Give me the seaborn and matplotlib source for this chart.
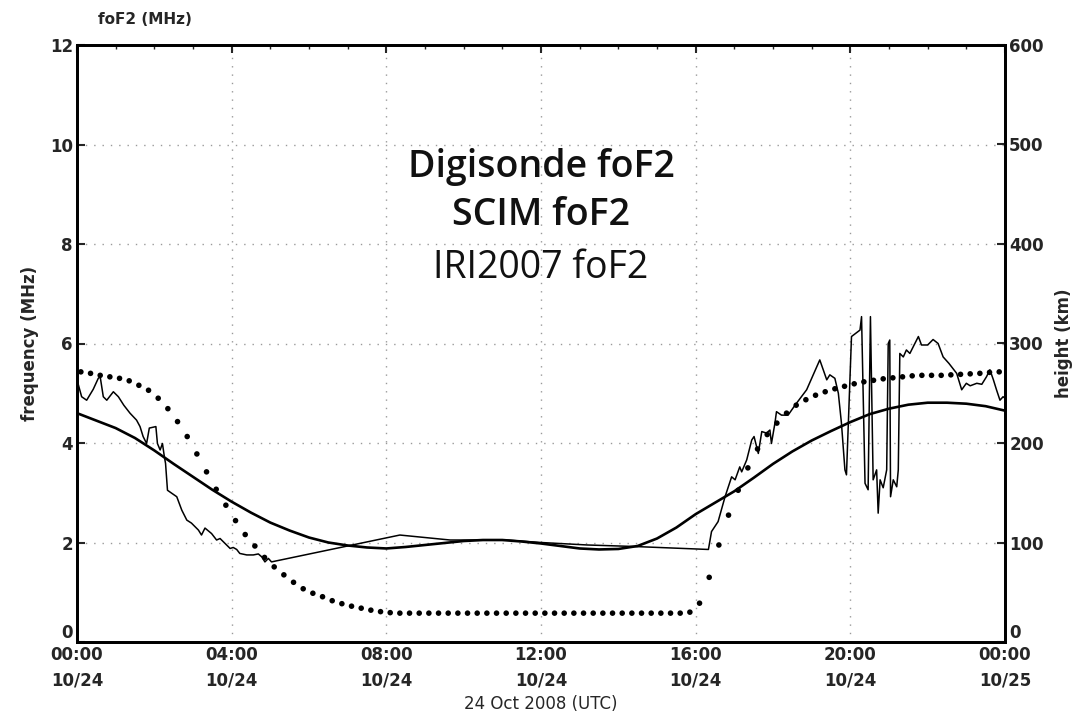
import numpy as np
import pandas as pd
import matplotlib
matplotlib.use("Agg")
import matplotlib.pyplot as plt
import seaborn as sns
from matplotlib.ticker import MultipleLocator

# ---------------- data ----------------
# Digisonde foF2 (hours UTC, MHz)
digi_hours = [0.0, 0.12, 0.25, 0.42, 0.55, 0.60, 0.68, 0.77, 0.94, 1.07, 1.21, 1.37, 1.54, 1.63,
              1.71, 1.80, 1.87, 2.04, 2.08, 2.15, 2.21, 2.26, 2.29, 2.34, 2.45, 2.58, 2.71, 2.84,
              2.96, 3.14, 3.22, 3.31, 3.48, 3.61, 3.70, 3.83, 3.96, 4.04, 4.13, 4.21, 4.39, 4.56,
              4.69, 4.78, 4.86, 4.95, 5.03, 8.35, 9.65, 11.1, 12.0, 13.2, 14.4, 16.33, 16.41,
              16.58, 16.76, 16.93, 17.02, 17.14, 17.19, 17.32, 17.45, 17.51, 17.62, 17.71, 17.83,
              17.92, 17.96, 18.05, 18.09, 18.22, 18.39, 18.57, 18.87, 19.21, 19.39, 19.47, 19.60,
              19.69, 19.77, 19.86, 19.90, 20.03, 20.25, 20.29, 20.38, 20.46, 20.52, 20.59, 20.68,
              20.72, 20.77, 20.85, 20.94, 20.98, 21.02, 21.04, 21.11, 21.20, 21.24, 21.28, 21.37,
              21.45, 21.54, 21.63, 21.76, 21.84, 22.00, 22.14, 22.27, 22.40, 22.55, 22.75, 22.88,
              23.00, 23.10, 23.27, 23.40, 23.52, 23.61, 23.70, 23.78, 23.87, 23.95, 24.0]
digi_fof2 = [5.27, 4.93, 4.86, 5.08, 5.30, 5.33, 4.93, 4.86, 5.03, 4.93, 4.76, 4.60, 4.46, 4.33,
             4.13, 3.99, 4.30, 4.33, 3.99, 3.86, 3.99, 3.72, 3.59, 3.05, 2.99, 2.92, 2.65, 2.45,
             2.39, 2.25, 2.15, 2.29, 2.18, 2.05, 2.08, 1.98, 1.88, 1.90, 1.86, 1.78, 1.75, 1.75,
             1.77, 1.71, 1.61, 1.68, 1.61, 2.15, 2.05, 2.05, 2.00, 1.95, 1.92, 1.86, 2.22,
             2.42, 2.92, 3.32, 3.26, 3.52, 3.42, 3.66, 4.06, 4.13, 3.79, 4.23, 4.20,
             4.26, 3.99, 4.40, 4.63, 4.56, 4.56, 4.76, 5.07, 5.67, 5.27, 5.37, 5.30,
             5.00, 4.40, 3.46, 3.36, 6.14, 6.27, 6.54, 3.19, 3.06, 6.54, 3.26, 3.46,
             2.59, 3.26, 3.10, 3.46, 6.00, 6.07, 2.92, 3.26, 3.12, 3.46, 5.80, 5.73,
             5.87, 5.80, 5.94, 6.14, 5.97, 5.97, 6.08, 6.00, 5.73, 5.60, 5.40, 5.07,
             5.20, 5.15, 5.20, 5.18, 5.33, 5.47, 5.27, 5.07, 4.86, 4.93, 4.90]

# SCIM foF2 (half-hourly)
scim_hours = [0.0, 0.5, 1.0, 1.5, 2.0, 2.5, 3.0, 3.5, 4.0, 4.5, 5.0, 5.5, 6.0, 6.5, 7.0, 7.5,
              8.0, 8.5, 9.0, 9.5, 10.0, 10.5, 11.0, 11.5, 12.0, 12.5, 13.0, 13.5, 14.0, 14.5,
              15.0, 15.5, 16.0, 16.5, 17.0, 17.5, 18.0, 18.5, 19.0, 19.5, 20.0, 20.5, 21.0,
              21.5, 22.0, 22.5, 23.0, 23.5, 24.0]
scim_fof2 = [4.60, 4.45, 4.30, 4.10, 3.85, 3.58, 3.32, 3.06, 2.82, 2.60, 2.40, 2.24, 2.10, 2.00,
             1.94, 1.90, 1.88, 1.91, 1.95, 1.99, 2.03, 2.05, 2.05, 2.02, 1.98, 1.93, 1.88, 1.86,
             1.87, 1.93, 2.08, 2.30, 2.57, 2.80, 3.03, 3.30, 3.58, 3.83, 4.05, 4.24, 4.42, 4.58,
             4.69, 4.77, 4.81, 4.81, 4.79, 4.74, 4.65]

# IRI2007 foF2 (15-minute samples)
iri_fof2 = [5.43, 5.40, 5.36, 5.33, 5.30, 5.25, 5.16, 5.06, 4.90, 4.69, 4.43, 4.13, 3.78, 3.42,
            3.07, 2.75, 2.44, 2.16, 1.93, 1.70, 1.51, 1.35, 1.20, 1.07, 0.98, 0.91, 0.83, 0.77,
            0.72, 0.68, 0.64, 0.61, 0.59, 0.58, 0.58, 0.58, 0.58, 0.58, 0.58, 0.58, 0.58, 0.58,
            0.58, 0.58, 0.58, 0.58, 0.58, 0.58, 0.58, 0.58, 0.58, 0.58, 0.58, 0.58, 0.58, 0.58,
            0.58, 0.58, 0.58, 0.58, 0.58, 0.58, 0.58, 0.60, 0.78, 1.30, 1.95, 2.55, 3.05, 3.50,
            3.88, 4.17, 4.40, 4.60, 4.76, 4.87, 4.96, 5.03, 5.09, 5.14, 5.19, 5.23, 5.26, 5.29,
            5.31, 5.33, 5.35, 5.36, 5.36, 5.36, 5.37, 5.38, 5.39, 5.40, 5.42, 5.43]
iri_hours = list(np.arange(len(iri_fof2)) * 0.25 + 0.1)

x_ticks = [0, 4, 8, 12, 16, 20, 24]
x_ticklabels = ["00:00\n10/24", "04:00\n10/24", "08:00\n10/24", "12:00\n10/24",
                "16:00\n10/24", "20:00\n10/24", "00:00\n10/25"]
left_ticks = [0, 2, 4, 6, 8, 10, 12]
right_ticks = [0, 100, 200, 300, 400, 500, 600]
legend_labels = ["Digisonde foF2", "SCIM foF2", "IRI2007 foF2"]

df_digi = pd.DataFrame({"hour": digi_hours, "foF2": digi_fof2})
df_scim = pd.DataFrame({"hour": scim_hours, "foF2": scim_fof2})
df_iri = pd.DataFrame({"hour": iri_hours, "foF2": iri_fof2})

# ---------------- style ----------------
sns.set_theme(style="white")
plt.rcParams["font.family"] = ["Liberation Sans Narrow", "DejaVu Sans"]
plt.rcParams.update({
    "xtick.direction": "in", "ytick.direction": "in",
    "axes.edgecolor": "black", "axes.linewidth": 2.0,
})

fig = plt.figure(figsize=(10.8, 7.15), dpi=100)
ax = fig.add_axes([77 / 1080, 1 - 642 / 715, 928 / 1080, (642 - 45) / 715])

sns.lineplot(data=df_scim, x="hour", y="foF2", ax=ax, color="black", linewidth=1.9,
             estimator=None, sort=False)
sns.lineplot(data=df_digi, x="hour", y="foF2", ax=ax, color="black", linewidth=1.1,
             estimator=None, sort=False)
sns.scatterplot(data=df_iri, x="hour", y="foF2", ax=ax, color="black", s=16,
                edgecolor="none", zorder=3)

ax.set_xlim(0, 24)
ax.set_ylim(0, 12)
ax.set_xticks(x_ticks)
ax.set_xticklabels(x_ticklabels, fontsize=12, fontweight="bold", linespacing=1.5)
ax.xaxis.set_minor_locator(MultipleLocator(1))
ax.set_yticks(left_ticks)
ax.set_yticklabels([str(v) for v in left_ticks], fontsize=12, fontweight="bold")
ax.tick_params(axis="both", which="major", length=6, width=1.5, top=True, pad=3)
ax.tick_params(axis="x", which="minor", length=3, width=1, top=True)
ax.grid(True, which="major", color="#9a9a9a", linestyle=(0, (1, 5)), linewidth=1.0)
ax.set_xlabel("24 Oct 2008 (UTC)", fontsize=12, labelpad=4)
ax.set_ylabel("frequency (MHz)", fontsize=12, fontweight="bold", labelpad=8)
for s in ax.spines.values():
    s.set_visible(True)
    s.set_linewidth(2.0)
ax.get_yticklabels()[0].set_va("bottom")

ax2 = ax.twinx()
ax2.set_ylim(0, 600)
ax2.set_yticks(right_ticks)
ax2.set_yticklabels([str(v) for v in right_ticks], fontsize=12, fontweight="bold")
ax2.tick_params(axis="y", direction="in", length=6, width=1.5, pad=3)
ax2.set_ylabel("height (km)", fontsize=12, fontweight="bold", labelpad=8)
ax2.grid(False)
for s in ax2.spines.values():
    s.set_linewidth(2.0)
ax2.get_yticklabels()[0].set_va("bottom")

fig.text(98 / 1080, 1 - 20 / 715, "foF2 (MHz)", fontsize=11, fontweight="bold",
         ha="left", va="center")

legend_fams = [["Open Sans", "DejaVu Sans"]] * 3
legend_weights = ["semibold", "semibold", "normal"]
legend_y = [0.795, 0.716, 0.627]
for lab, wt, yy, fam in zip(legend_labels, legend_weights, legend_y, legend_fams):
    ax.text(0.5, yy, lab, transform=ax.transAxes, ha="center", va="center",
            fontsize=27, fontweight=wt, family=fam, color="#111111")

fig.savefig("out.png", dpi=100)
